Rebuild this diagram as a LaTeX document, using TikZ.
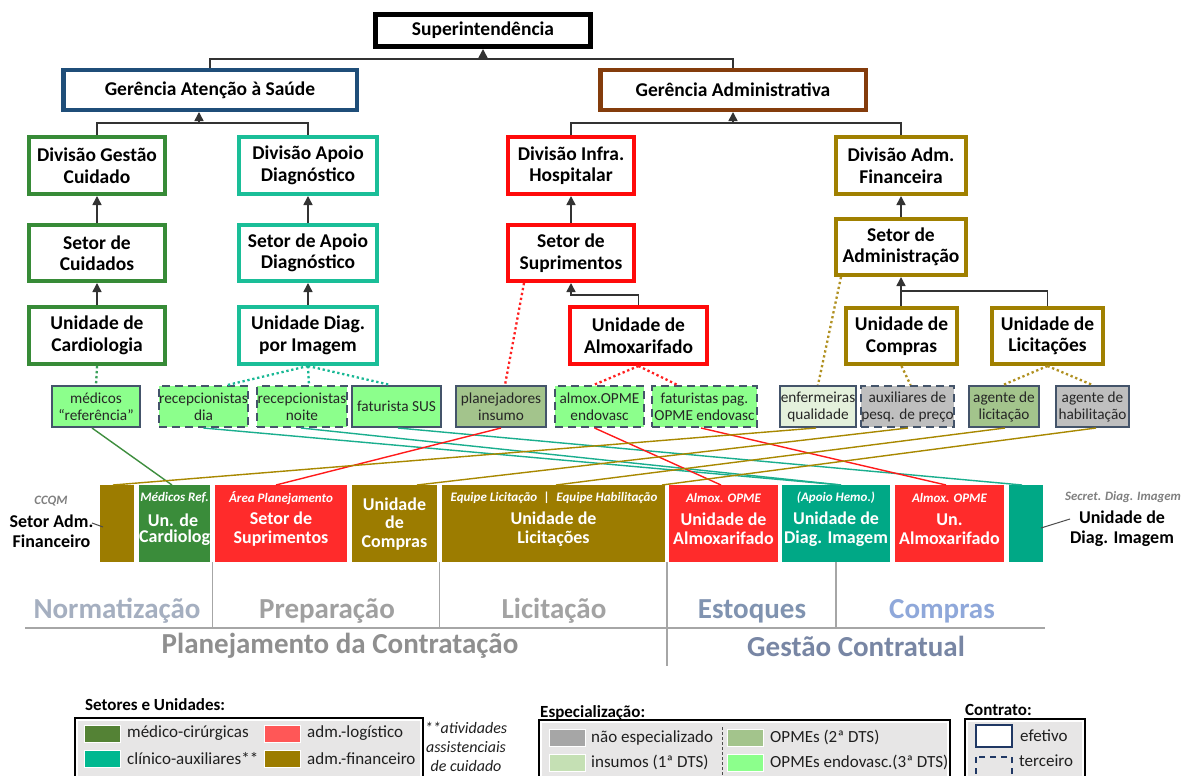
\documentclass[tikz,border=0pt]{standalone}
\usepackage{fontspec}
\setmainfont{Carlito}
\usetikzlibrary{arrows.meta,calc}

% frame colours of the organisation chart
\definecolor{navyb}{HTML}{1F4E79}
\definecolor{brownb}{HTML}{843C0C}
\definecolor{greenb}{HTML}{378B37}
\definecolor{tealb}{HTML}{1ABE98}
\definecolor{redb}{HTML}{FF0A0A}
\definecolor{oliveb}{HTML}{A08000}
\definecolor{slate}{HTML}{44546A}
\definecolor{navyc}{HTML}{203864}
% specialisation fills
\definecolor{spec3}{HTML}{8CFF8C}
\definecolor{spec2}{HTML}{A3C48C}
\definecolor{spec1}{HTML}{C5E0B4}
\definecolor{spec1light}{HTML}{E4F1DC}
\definecolor{nospec}{HTML}{BFBFBF}
\definecolor{nospecdark}{HTML}{A6A6A6}
% process bar fills
\definecolor{barolive}{HTML}{9C7C00}
\definecolor{bargreen}{HTML}{3A8C3A}
\definecolor{barred}{HTML}{FF2B2B}
\definecolor{barteal}{HTML}{00A886}
% legend fills
\definecolor{legmed}{HTML}{548235}
\definecolor{legclin}{HTML}{00B890}
\definecolor{leglog}{HTML}{FF5757}
\definecolor{leggray}{HTML}{E7E6E6}
% connector colours
\definecolor{dotgreen}{HTML}{3AA05A}
\definecolor{dotteal}{HTML}{18B894}
\definecolor{dotred}{HTML}{FF2020}
\definecolor{dotolive}{HTML}{B09020}
\definecolor{xgreen}{HTML}{3E8E3E}
\definecolor{xteal}{HTML}{1AAE8E}
\definecolor{xred}{HTML}{FF1A1A}
\definecolor{xolive}{HTML}{A88800}
% phase label colours
\definecolor{phNorm}{HTML}{A5AFC0}
\definecolor{phPrep}{HTML}{A0A0A0}
\definecolor{phLic}{HTML}{A3A3A3}
\definecolor{phEst}{HTML}{8093B0}
\definecolor{phComp}{HTML}{8FA8DA}
\definecolor{phPlan}{HTML}{8F8F8F}
\definecolor{phGest}{HTML}{7886A4}

% box from outer edges: style, name, x1, y1, x2, y2, border width, text
\newcommand\rectnode[8]{%
  \node[#1, minimum width={#5-#3-#7}, minimum height={#6-#4-#7}]
    (#2) at ({(#3+#5)/2},{(#4+#6)/2}) {#8};}

\begin{document}
\begin{tikzpicture}[x=1pt, y=-1pt,
  orgbox/.style={draw, fill=white, align=center, inner sep=0pt, text=black,
    font=\bfseries\fontsize{19.5}{21.5}\selectfont},
  staff/.style={draw=slate, line width=2.2pt, align=center, inner sep=0pt,
    text=black!85, font=\fontsize{15.3}{17}\selectfont},
  hired/.style={staff, dash pattern=on 8pt off 5pt},
  bar/.style={inner sep=0pt, outer sep=0pt},
  bartxt/.style={text=white, align=center, inner sep=0pt,
    font=\bfseries\fontsize{18}{18.6}\selectfont},
  bartag/.style={text=white, inner sep=0pt,
    font=\bfseries\itshape\fontsize{13}{14}\selectfont},
  sidetag/.style={text=black!50, inner sep=0pt,
    font=\bfseries\itshape\fontsize{12.8}{14}\selectfont},
  sidetxt/.style={text=black, align=center, inner sep=0pt,
    font=\bfseries\fontsize{18}{20}\selectfont},
  link/.style={draw=black!80, line width=1.5pt},
  uparrow/.style={link, -{Triangle[length=9pt,width=9pt]}},
  dots/.style={line width=2.3pt, dash pattern=on 2.3pt off 2.7pt},
  cross/.style={line width=1.4pt},
  pointer/.style={draw=black!70, line width=1pt},
  rule/.style={draw=black!35, line width=1.1pt},
  phase/.style={inner sep=0pt, font=\bfseries\fontsize{29}{30}\selectfont},
  legtitle/.style={anchor=west, inner sep=0pt, text=black,
    font=\bfseries\fontsize{17}{18}\selectfont},
  legtext/.style={anchor=west, inner sep=0pt, text=black!88,
    font=\fontsize{17}{18}\selectfont},
  swatch/.style={draw=white, line width=1pt, inner sep=0pt,
    minimum width=36pt, minimum height=17pt},
]
\useasboundingbox (0,0) rectangle (1192,776);
\clip (0,0) rectangle (1192,776);
\fill[white] (0,0) rectangle (1192,776);

% ---------------- organisation chart ----------------
\rectnode{orgbox, line width=5pt, draw=black}{sup}{373}{12}{593}{49}{5}{Superintendência}
\rectnode{orgbox, line width=4.5pt, draw=navyb}{gas}{61}{68}{359}{112}{4.5}{Gerência Atenção à Saúde}
\rectnode{orgbox, line width=4.5pt, draw=brownb}{ga}{598}{68}{868}{112}{4.5}{Gerência Administrativa}

\rectnode{orgbox, line width=4pt, draw=greenb}{dgc}{27}{135}{167}{196}{4}{Divisão Gestão\\Cuidado}
\rectnode{orgbox, line width=4pt, draw=tealb}{dad}{237}{135}{379}{196}{4}{Divisão Apoio\\Diagnóstico}
\rectnode{orgbox, line width=4pt, draw=redb}{dih}{506}{135}{636}{196}{4}{Divisão Infra.\\Hospitalar}
\rectnode{orgbox, line width=4pt, draw=oliveb}{daf}{834}{135}{968}{196}{4}{Divisão Adm.\\Financeira}

\rectnode{orgbox, line width=4pt, draw=greenb}{sc}{27}{223}{167}{283}{4}{Setor de\\Cuidados}
\rectnode{orgbox, line width=4pt, draw=tealb}{sad}{237}{223}{379}{283}{4}{Setor de Apoio\\Diagnóstico}
\rectnode{orgbox, line width=4pt, draw=redb}{ss}{506}{223}{636}{283}{4}{Setor de\\Suprimentos}
\rectnode{orgbox, line width=4pt, draw=oliveb}{sa}{834}{217}{968}{277}{4}{Setor de\\Administração}

\rectnode{orgbox, line width=4pt, draw=greenb}{uc}{27}{305}{167}{366}{4}{Unidade de\\Cardiologia}
\rectnode{orgbox, line width=4pt, draw=tealb}{udi}{237}{305}{379}{366}{4}{Unidade Diag.\\por Imagem}
\rectnode{orgbox, line width=4pt, draw=redb}{ua}{568}{305}{709}{366}{4}{Unidade de\\Almoxarifado}
\rectnode{orgbox, line width=4pt, draw=oliveb}{uco}{844}{306}{959}{366}{4}{Unidade de\\Compras}
\rectnode{orgbox, line width=4pt, draw=oliveb}{uli}{990}{306}{1105}{366}{4}{Unidade de\\Licitações}

% reporting lines
\coordinate (busTop) at (0,59);
\coordinate (busMid) at (199,123);
\coordinate (busStock) at (0,295);
\coordinate (busAdm) at (0,291);
\draw[link] (gas.north) -- (gas.north |- busTop) -- (ga.north |- busTop) -- (ga.north);
\draw[uparrow] (sup.south |- busTop) -- (sup.south);
\draw[link] (dgc.north) -- (dgc.north |- busMid) -- (dad.north |- busMid) -- (dad.north);
\draw[uparrow] (busMid) -- (busMid |- gas.south);
\draw[link] (dih.north) -- (dih.north |- busMid) -- (daf.north |- busMid) -- (daf.north);
\draw[uparrow] (ga.south |- busMid) -- (ga.south);
\draw[uparrow] (sc.north) -- (dgc.south);
\draw[uparrow] (uc.north) -- (sc.south);
\draw[uparrow] (sad.north) -- (dad.south);
\draw[uparrow] (udi.north) -- (sad.south);
\draw[uparrow] (ss.north) -- (dih.south);
\draw[uparrow] (sa.north) -- (daf.south);
\draw[uparrow] (ua.north) -- (ua.north |- busStock) -- (ss.south |- busStock) -- (ss.south);
\draw[uparrow] (sa.south |- uco.north) -- (sa.south);
\draw[link] (uli.north) -- (uli.north |- busAdm) -- (sa.south |- busAdm);

% ---------------- staff groups ----------------
\rectnode{staff, fill=spec3}{med}{51}{385}{141}{428}{2.2}{médicos\\“referência”}
\rectnode{hired, fill=spec3}{rd}{158}{385}{249}{428}{2.2}{recepcionistas\\dia}
\rectnode{hired, fill=spec3}{rn}{256}{385}{348}{428}{2.2}{recepcionistas\\noite}
\rectnode{staff, fill=spec3}{fs}{351}{385}{442}{428}{2.2}{faturista SUS}
\rectnode{staff, fill=spec2}{pi}{455}{385}{547}{428}{2.2}{planejadores\\insumo}
\rectnode{hired, fill=spec3}{ao}{554}{385}{645}{428}{2.2}{almox.OPME\\endovasc}
\rectnode{hired, fill=spec3}{fp}{651}{385}{758}{428}{2.2}{faturistas pag.\\OPME endovasc}
\rectnode{staff, fill=spec1light}{eq}{779}{385}{857}{428}{2.2}{enfermeiras\\qualidade}
\rectnode{hired, fill=nospec}{ap}{862}{385}{953}{428}{2.2}{auxiliares de\\pesq. de preço}
\rectnode{staff, fill=spec2}{al}{968}{385}{1040}{428}{2.2}{agente de\\licitação}
\rectnode{staff, fill=nospec}{ah}{1055}{385}{1130}{428}{2.2}{agente de\\habilitação}

% allocation of staff to units (dotted)
\draw[dots, draw=dotgreen] (uc.south) -- (med.north);
\draw[dots, draw=dotteal] (udi.south) -- ([xshift=24]rd.north);
\draw[dots, draw=dotteal] (udi.south) -- ([xshift=7]rn.north);
\draw[dots, draw=dotteal] (udi.south) -- ([xshift=-6]fs.north);
\draw[dots, draw=dotred] ([xshift=-47]ss.south) -- ([xshift=4]pi.north);
\draw[dots, draw=dotred] (ua.south) -- ([xshift=-6]ao.north);
\draw[dots, draw=dotred] (ua.south) -- ([xshift=-27]fp.north);
\draw[dots, draw=dotolive] ([xshift=-60]sa.south) -- (eq.north);
\draw[dots, draw=dotolive] (uco.south) -- ([xshift=3]ap.north);
\draw[dots, draw=dotolive] (uli.south) -- ([xshift=-1]al.north);
\draw[dots, draw=dotolive] (uli.south) -- (ah.north);

% ---------------- process bars ----------------
\rectnode{bar, fill=barolive}{b1}{100}{485}{134}{562}{0}{}
\rectnode{bar, fill=bargreen}{b2}{139}{485}{210}{562}{0}{}
\rectnode{bar, fill=barred}{b3}{215}{485}{347}{562}{0}{}
\rectnode{bar, fill=barolive}{b4}{352}{485}{437}{562}{0}{}
\rectnode{bar, fill=barolive}{b5}{442}{485}{665}{562}{0}{}
\rectnode{bar, fill=barred}{b6}{669}{485}{778}{562}{0}{}
\rectnode{bar, fill=barteal}{b7}{782}{485}{890}{562}{0}{}
\rectnode{bar, fill=barred}{b8}{895}{485}{1004}{562}{0}{}
\rectnode{bar, fill=barteal}{b9}{1009}{485}{1043}{562}{0}{}

\begin{scope}
  \clip (b2.north west) rectangle (b2.south east);
  \node[bartag] (t2a) at (174.5,498) {Médicos Ref.};
  \node[bartxt] (t2b) at (173,520) {Un. de};
  \node[bartxt, anchor=west] (t2c) at (139,538) {Cardiologia};
\end{scope}
\node[bartag] (t3a) at (281,498) {Área Planejamento};
\node[bartxt] (t3b) at (281,529) {Setor de\\Suprimentos};
\node[bartxt] (t4b) at (394.5,524) {Unidade\\de\\Compras};
\node[bartag] (t5a) at (554,498) {Equipe Licitação\enspace|\enspace Equipe Habilitação};
\node[bartxt] (t5b) at (553.5,529) {Unidade de\\Licitações};
\node[bartag] (t6a) at (723.5,498) {Almox. OPME};
\node[bartxt] (t6b) at (723.5,529) {Unidade de\\Almoxarifado};
\node[bartag] (t7a) at (836,498) {(Apoio Hemo.)};
\node[bartxt] (t7b) at (836,529) {Unidade de\\Diag. Imagem};
\node[bartag] (t8a) at (949.5,498) {Almox. OPME};
\node[bartxt] (t8b) at (949.5,529) {Un.\\Almoxarifado};

% side captions of the end bars
\node[sidetag] (ccqm) at (51,501) {CCQM};
\node[sidetxt] (sadm) at (51.5,531) {Setor Adm.\\Financeiro};
\coordinate (pL) at (92,523);
\draw[pointer] (pL) -- ($(b1.west)+(3,3.5)$);
\node[sidetag] (sec) at (1123,497) {Secret. Diag. Imagem};
\node[sidetxt] (udiside) at (1122,529) {Unidade de\\Diag. Imagem};
\coordinate (pR) at (1070,519);
\draw[pointer] ($(b9.east)+(-2,4.5)$) -- (pR);

% staff to process bars
\draw[cross, draw=xgreen] ([xshift=-4]med.south) -- ([xshift=-2.5]b2.north);
\draw[cross, draw=xteal] (rd.south) -- ([xshift=5]b7.north);
\draw[cross, draw=xteal] ([xshift=-1]rn.south) -- ([xshift=5]b7.north);
\draw[cross, draw=xteal] ([xshift=1.5]fs.south) -- ([xshift=-4]b9.north);
\draw[cross, draw=xred] (pi.south) -- ([xshift=-5]b3.north);
\draw[cross, draw=xred] ([xshift=-5]ao.south) -- ([xshift=-2.5]b6.north);
\draw[cross, draw=xred] ([xshift=-3.5]fp.south) -- ([xshift=-3.5]b8.north);
\draw[cross, draw=xolive] ([xshift=-2]eq.south) -- ([xshift=-4]b1.north);
\draw[cross, draw=xolive] ([xshift=0.5]ap.south) -- ([xshift=22.5]b4.north);
\draw[cross, draw=xolive] ([xshift=1]al.south) -- ([xshift=2.5]b5.north);
\draw[cross, draw=xolive] ([xshift=3.5]ah.south) -- ([xshift=108.5]b5.north);

% ---------------- phases ----------------
\draw[rule] (212.5,562) -- (212.5,628);
\draw[rule] (439.5,562) -- (439.5,628);
\draw[rule] (667,562) -- (667,666);
\draw[rule] (836,562) -- (836,628);
\draw[rule] (25,628) -- (1045,628);

\node[phase, text=phNorm] (pNorm) at (117,611) {Normatização};
\node[phase, text=phPrep] (pPrep) at (327,611) {Preparação};
\node[phase, text=phLic] (pLic) at (554,611) {Licitação};
\node[phase, text=phEst] (pEst) at (752,611) {Estoques};
\node[phase, text=phComp] (pComp) at (942,611) {Compras};
\node[phase, text=phPlan] (pPlan) at (340,646) {Planejamento da Contratação};
\node[phase, text=phGest] (pGest) at (856,646) {Gestão Contratual};

% ---------------- legends ----------------
\node[legtitle] (lgA) at (85,705) {Setores e Unidades:};
\fill[leggray] (78,721) rectangle (420,800);
\draw[line width=2pt] (75,718) rectangle (423,800);
\node[swatch, fill=legmed] (sw1) at (102,733.5) {};
\node[swatch, fill=legclin] (sw2) at (102,759) {};
\node[swatch, fill=leglog] (sw3) at (282,733.5) {};
\node[swatch, fill=barolive] (sw4) at (282,759) {};
\node[legtext] (lt1) at (127,733.5) {médico-cirúrgicas};
\node[legtext] (lt2) at (127,759) {clínico-auxiliares**};
\node[legtext] (lt3) at (307,733.5) {adm.-logístico};
\node[legtext] (lt4) at (307,759) {adm.-financeiro};
\node[align=center, inner sep=0pt, text=black!88,
      font=\itshape\fontsize{16}{19}\selectfont] (note) at (466,747)
      {**atividades\\assistenciais\\de cuidado};

\node[legtitle] (lgB) at (540,713) {Especialização:};
\fill[leggray] (542,723) rectangle (947,800);
\draw[line width=2pt] (539,720) rectangle (950,800);
\node[swatch, fill=nospecdark] (sw5) at (567.5,737.5) {};
\node[swatch, fill=spec1] (sw6) at (567.5,762.5) {};
\node[swatch, fill=spec2] (sw7) at (745,737.5) {};
\node[swatch, fill=spec3] (sw8) at (745,762.5) {};
\draw[black!70, line width=1pt, dash pattern=on 3pt off 2pt] (722,727) -- (722,776);
\node[legtext] (lt5) at (591,737.5) {não especializado};
\node[legtext] (lt6) at (591,762.5) {insumos (1ª DTS)};
\node[legtext] (lt7) at (770,737.5) {OPMEs (2ª DTS)};
\node[legtext] (lt8) at (770,762.5) {OPMEs endovasc.(3ª DTS)};

\node[legtitle] (lgC) at (965,710) {Contrato:};
\fill[leggray] (968,722) rectangle (1082,800);
\draw[line width=2pt] (965,719) rectangle (1085,800);
\draw[navyc, line width=1.6pt, fill=white] (976,725) rectangle (1012,747);
\draw[navyc, line width=2pt, dash pattern=on 6pt off 5pt] (976,757) rectangle (1012,786);
\node[legtext] (lt9) at (1020,736) {efetivo};
\node[legtext] (lt10) at (1019,761) {terceiro};
\end{tikzpicture}
\end{document}
